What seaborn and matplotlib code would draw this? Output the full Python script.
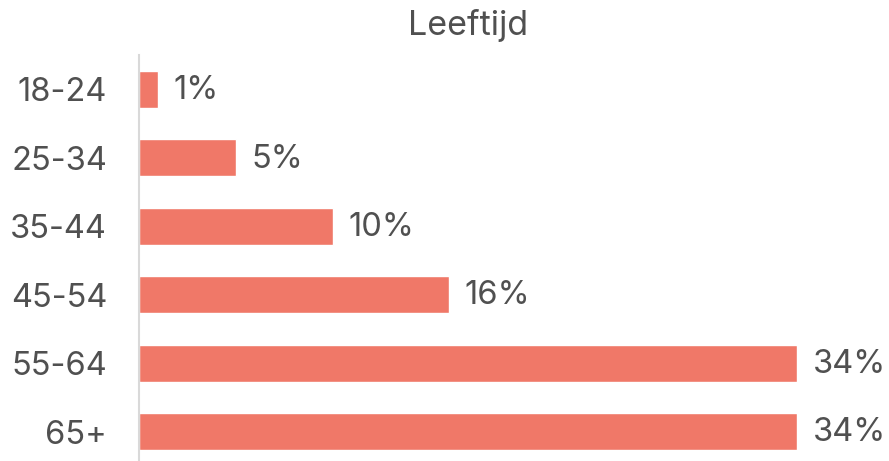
import matplotlib
matplotlib.use("Agg")
import matplotlib.pyplot as plt
import seaborn as sns
import pandas as pd

categories = ["18-24", "25-34", "35-44", "45-54", "55-64", "65+"]
values = [1, 5, 10, 16, 34, 34]
labels = ["1%", "5%", "10%", "16%", "34%", "34%"]

sns.set_style("white")
plt.rcParams['font.family'] = ['Inter', 'DejaVu Sans']
text_col = "#505050"
bar_col = "#F07868"

df = pd.DataFrame({"cat": categories, "val": values})

fig = plt.figure(figsize=(8.89, 4.61), dpi=100)
ax = fig.add_axes([139/889, 0, (797-139)/889, 406/461])
sns.barplot(data=df, x="val", y="cat", color=bar_col, width=0.54, saturation=1, ax=ax)

ax.set_xlim(0, 34)
ax.set_ylim(5.43, -0.5)
for i, (v, lab) in enumerate(zip(values, labels)):
    ax.text(v + 0.8, i + 0.02, lab, va="center", ha="left", fontsize=23.5, color=text_col, clip_on=False)

ax.set_xlabel("")
ax.set_ylabel("")
ax.set_xticks([])
ax.tick_params(axis="y", length=0, pad=23, labelsize=23.5, labelcolor=text_col)
for s in ["top", "right", "bottom"]:
    ax.spines[s].set_visible(False)
ax.spines["left"].set_color("#d9d9d9")
ax.spines["left"].set_linewidth(1.5)

fig.text(468/889, 1 - 25/461, "Leeftijd", ha="center", va="center", fontsize=24.5, color=text_col)

fig.savefig("out.png", dpi=100)
